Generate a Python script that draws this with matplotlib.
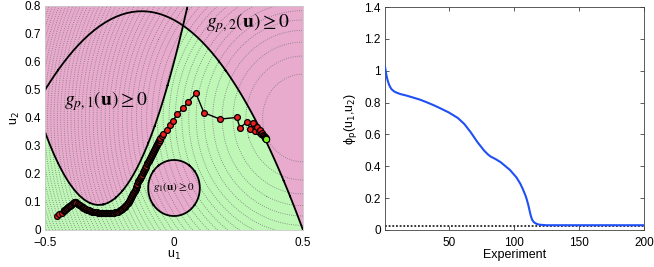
import numpy as np
import matplotlib
matplotlib.use("Agg")
import matplotlib.pyplot as plt
from matplotlib.colors import ListedColormap

plt.rcParams['font.family'] = ['Liberation Sans', 'DejaVu Sans']
plt.rcParams['mathtext.fontset'] = 'dejavusans'

# ---------------- data ----------------
# Optimisation path (u1, u2) (dense where the markers merge)
path_u1 = [-0.455, -0.445, -0.436, -0.428,
           -0.425, -0.422, -0.419, -0.416, -0.413, -0.410, -0.407, -0.404, -0.401,
           -0.398, -0.395, -0.392, -0.389, -0.386, -0.384,
           -0.381, -0.378, -0.374, -0.371, -0.368, -0.364, -0.361, -0.358,
           -0.354, -0.351, -0.347, -0.344, -0.340, -0.337, -0.333, -0.330, -0.326,
           -0.322, -0.319,
           -0.315, -0.311, -0.307, -0.303, -0.300, -0.296, -0.292, -0.288, -0.284,
           -0.280,
           -0.276, -0.272, -0.268, -0.264, -0.260, -0.257, -0.253, -0.249, -0.245,
           -0.241,
           -0.237, -0.233, -0.228, -0.224, -0.220, -0.216,
           -0.213, -0.209, -0.206, -0.203, -0.200, -0.196, -0.193, -0.190,
           -0.188, -0.185, -0.183, -0.180, -0.178, -0.176, -0.173, -0.171,
           -0.169, -0.167, -0.165, -0.163, -0.161, -0.159, -0.157, -0.155, -0.153,
           -0.151,
           -0.149, -0.148, -0.146, -0.145, -0.143, -0.142, -0.140,
           -0.138, -0.136, -0.133, -0.131, -0.129, -0.127, -0.125, -0.122, -0.120,
           -0.118, -0.116, -0.114, -0.111, -0.109, -0.107, -0.105, -0.103, -0.100,
           -0.098, -0.096, -0.094, -0.092, -0.090, -0.088, -0.086, -0.085, -0.083,
           -0.081, -0.079, -0.077, -0.075, -0.073, -0.071, -0.069, -0.067, -0.065,
           -0.063, -0.062, -0.060, -0.058, -0.056, -0.054,
           -0.047, -0.041, -0.028, -0.016, -0.005, 0.013, 0.036, 0.055, 0.085,
           0.116, 0.178, 0.243, 0.256, 0.284, 0.295, 0.305, 0.314, 0.320, 0.328,
           0.333, 0.338, 0.342, 0.345, 0.348, 0.350, 0.351, 0.353, 0.354, 0.355,
           0.356]
path_u2 = [0.051, 0.057, 0.062, 0.068,
           0.070, 0.072, 0.075, 0.077, 0.079, 0.081, 0.084, 0.086, 0.088,
           0.090, 0.093, 0.095, 0.097, 0.100, 0.101,
           0.099, 0.097, 0.094, 0.092, 0.090, 0.088, 0.085, 0.083,
           0.081, 0.080, 0.078, 0.076, 0.075, 0.073, 0.072, 0.070, 0.068,
           0.067, 0.065,
           0.065, 0.064, 0.064, 0.063, 0.063, 0.062, 0.062, 0.061, 0.061,
           0.060,
           0.060, 0.060, 0.059, 0.059, 0.059, 0.059, 0.059, 0.060, 0.060,
           0.060,
           0.061, 0.062, 0.063, 0.063, 0.064, 0.065,
           0.067, 0.070, 0.072, 0.074, 0.076, 0.079, 0.081, 0.083,
           0.086, 0.089, 0.092, 0.095, 0.098, 0.101, 0.104, 0.107,
           0.111, 0.114, 0.118, 0.121, 0.125, 0.129, 0.132, 0.136, 0.139,
           0.143,
           0.147, 0.151, 0.155, 0.158, 0.162, 0.166, 0.170,
           0.174, 0.178, 0.182, 0.186, 0.190, 0.194, 0.198, 0.202, 0.206,
           0.210, 0.214, 0.218, 0.222, 0.226, 0.230, 0.234, 0.238, 0.242,
           0.246, 0.249, 0.253, 0.256, 0.260, 0.264, 0.267, 0.271, 0.274,
           0.278, 0.281, 0.285, 0.288, 0.292, 0.295, 0.299, 0.302, 0.306,
           0.309, 0.313, 0.316, 0.320, 0.323, 0.327,
           0.335, 0.343, 0.357, 0.375, 0.390, 0.413, 0.435, 0.458, 0.488,
           0.419, 0.396, 0.402, 0.365, 0.387, 0.361, 0.381, 0.353, 0.369, 0.350,
           0.358, 0.344, 0.345, 0.338, 0.336, 0.334, 0.332, 0.330, 0.328, 0.327,
           0.326]
optimum_u = [0.357, 0.324]

# Cost per experiment
experiment = [1, 2, 3, 4, 5, 6, 8, 10, 13, 17, 22, 28, 33, 38, 43, 50, 57, 62, 67, 72,
              77, 80, 82, 86, 90, 97, 102, 105, 107, 109, 110, 111, 112, 113, 114, 115,
              116, 118, 120, 125, 130, 150, 200]
phi_values = [1.025, 0.975, 0.940, 0.915, 0.897, 0.884, 0.870, 0.862, 0.853, 0.845,
              0.833, 0.818, 0.802, 0.785, 0.766, 0.738, 0.703, 0.665, 0.612, 0.552,
              0.500, 0.475, 0.462, 0.445, 0.425, 0.377, 0.330, 0.290, 0.255, 0.215,
              0.190, 0.160, 0.125, 0.090, 0.065, 0.053, 0.045, 0.037, 0.033, 0.030,
              0.030, 0.030, 0.030]
phi_optimum = 0.025

u1_ticks = [-0.5, 0, 0.5]
u1_labels = ['\u22120.5', '0', '0.5']
u2_ticks = [0, 0.1, 0.2, 0.3, 0.4, 0.5, 0.6, 0.7, 0.8]
u2_labels = ['0', '0.1', '0.2', '0.3', '0.4', '0.5', '0.6', '0.7', '0.8']
exp_ticks = [50, 100, 150, 200]
phi_ticks = [0, 0.2, 0.4, 0.6, 0.8, 1.0, 1.2, 1.4]
phi_labels = ['0', '0.2', '0.4', '0.6', '0.8', '1', '1.2', '1.4']

# Problem definition (cost and constraints)
def phi_p(u1, u2):
    return (u1 - 0.5) ** 2 + (u2 - 0.4) ** 2

def g_p1(u1, u2):
    return -6 * u1 ** 2 - 3.5 * u1 + u2 - 0.6

def g_p2(u1, u2):
    return 2 * u1 ** 2 + 0.5 * u1 + u2 - 0.75

def g_1(u1, u2):
    return -u1 ** 2 - (u2 - 0.15) ** 2 + 0.01

# ---------------- figure ----------------
fig = plt.figure(figsize=(6.54, 2.67), dpi=100)
axL = fig.add_axes([45 / 654, 37 / 267, 258 / 654, 224 / 267])
axR = fig.add_axes([385 / 654, 37 / 267, 259 / 654, 223 / 267])

pink = '#e8aacd'
green = '#bef7b6'

g1d = np.linspace(-0.5, 0.5, 801)
g2d = np.linspace(0.0, 0.8, 641)
U1, U2 = np.meshgrid(g1d, g2d)
infeasible = (g_p1(U1, U2) > 0) | (g_p2(U1, U2) > 0) | (g_1(U1, U2) > 0)
axL.pcolormesh(U1, U2, infeasible.astype(float), cmap=ListedColormap([green, pink]),
               vmin=0, vmax=1, shading='auto', rasterized=True)
levels = np.arange(1, 52) * 0.0245
axL.contour(U1, U2, phi_p(U1, U2), levels=levels, colors='#7a7a7a',
            linestyles=':', linewidths=0.6)
for g in (g_p1, g_p2, g_1):
    axL.contour(U1, U2, g(U1, U2), levels=[0], colors='black', linewidths=1.3)

axL.plot(path_u1, path_u2, '-', color='black', lw=1.0, zorder=5)
axL.plot(path_u1, path_u2, 'o', ms=4.2, mfc='#f01e1e', mec='black', mew=0.9, zorder=6)
axL.plot([optimum_u[0]], [optimum_u[1]], 'o', ms=4.6, mfc='#7cf21e', mec='black',
         mew=0.8, zorder=7)

axL.text(-0.262, 0.462, r'$g_{p,1}(\mathbf{u}) \geq 0$', fontsize=14,
         ha='center', va='center', zorder=8, math_fontfamily='stix')
axL.text(0.287, 0.738, r'$g_{p,2}(\mathbf{u}) \geq 0$', fontsize=14,
         ha='center', va='center', zorder=8, math_fontfamily='stix')
axL.text(0.0, 0.152, r'$g_1(\mathbf{u}) \geq 0$', fontsize=8,
         ha='center', va='center', zorder=8, math_fontfamily='stix')

axL.set_xlim(-0.5, 0.5)
axL.set_ylim(0, 0.8)
axL.set_xticks(u1_ticks)
axL.set_xticklabels(u1_labels)
axL.set_yticks(u2_ticks)
axL.set_yticklabels(u2_labels)
axL.tick_params(axis='y', length=0, labelsize=8.5, pad=3)
axL.tick_params(axis='x', length=0, labelsize=8.5, pad=5)
for s in axL.spines.values():
    s.set_color('#c8c8c8')
    s.set_linewidth(0.6)
axL.set_xlabel(r'u$_1$', fontsize=9, labelpad=0)
axL.set_ylabel(r'u$_2$', fontsize=9, labelpad=2)

# right panel
axR.plot(experiment, phi_values, color='#2050f5', lw=1.5, zorder=3)
axR.axhline(phi_optimum, color='black', lw=1.1, ls=(0, (1.2, 1.2)), zorder=2)
axR.set_xlim(1, 200)
axR.set_ylim(0, 1.4)
axR.set_xticks(exp_ticks)
axR.set_yticks(phi_ticks)
axR.set_yticklabels(phi_labels)
axR.tick_params(direction='in', length=3, width=0.6, top=True, right=True,
                labelsize=8.5, pad=3, color='#404040')
axR.tick_params(axis='x', pad=5)
for s in axR.spines.values():
    s.set_color('#404040')
    s.set_linewidth(0.6)
axR.set_xlabel('Experiment', fontsize=9, labelpad=0)
axR.set_ylabel('\u03d5$_\\mathrm{p}$(u$_\\mathrm{1}$,u$_\\mathrm{2}$)', fontsize=9, labelpad=4)

fig.savefig('out.png', dpi=100)
